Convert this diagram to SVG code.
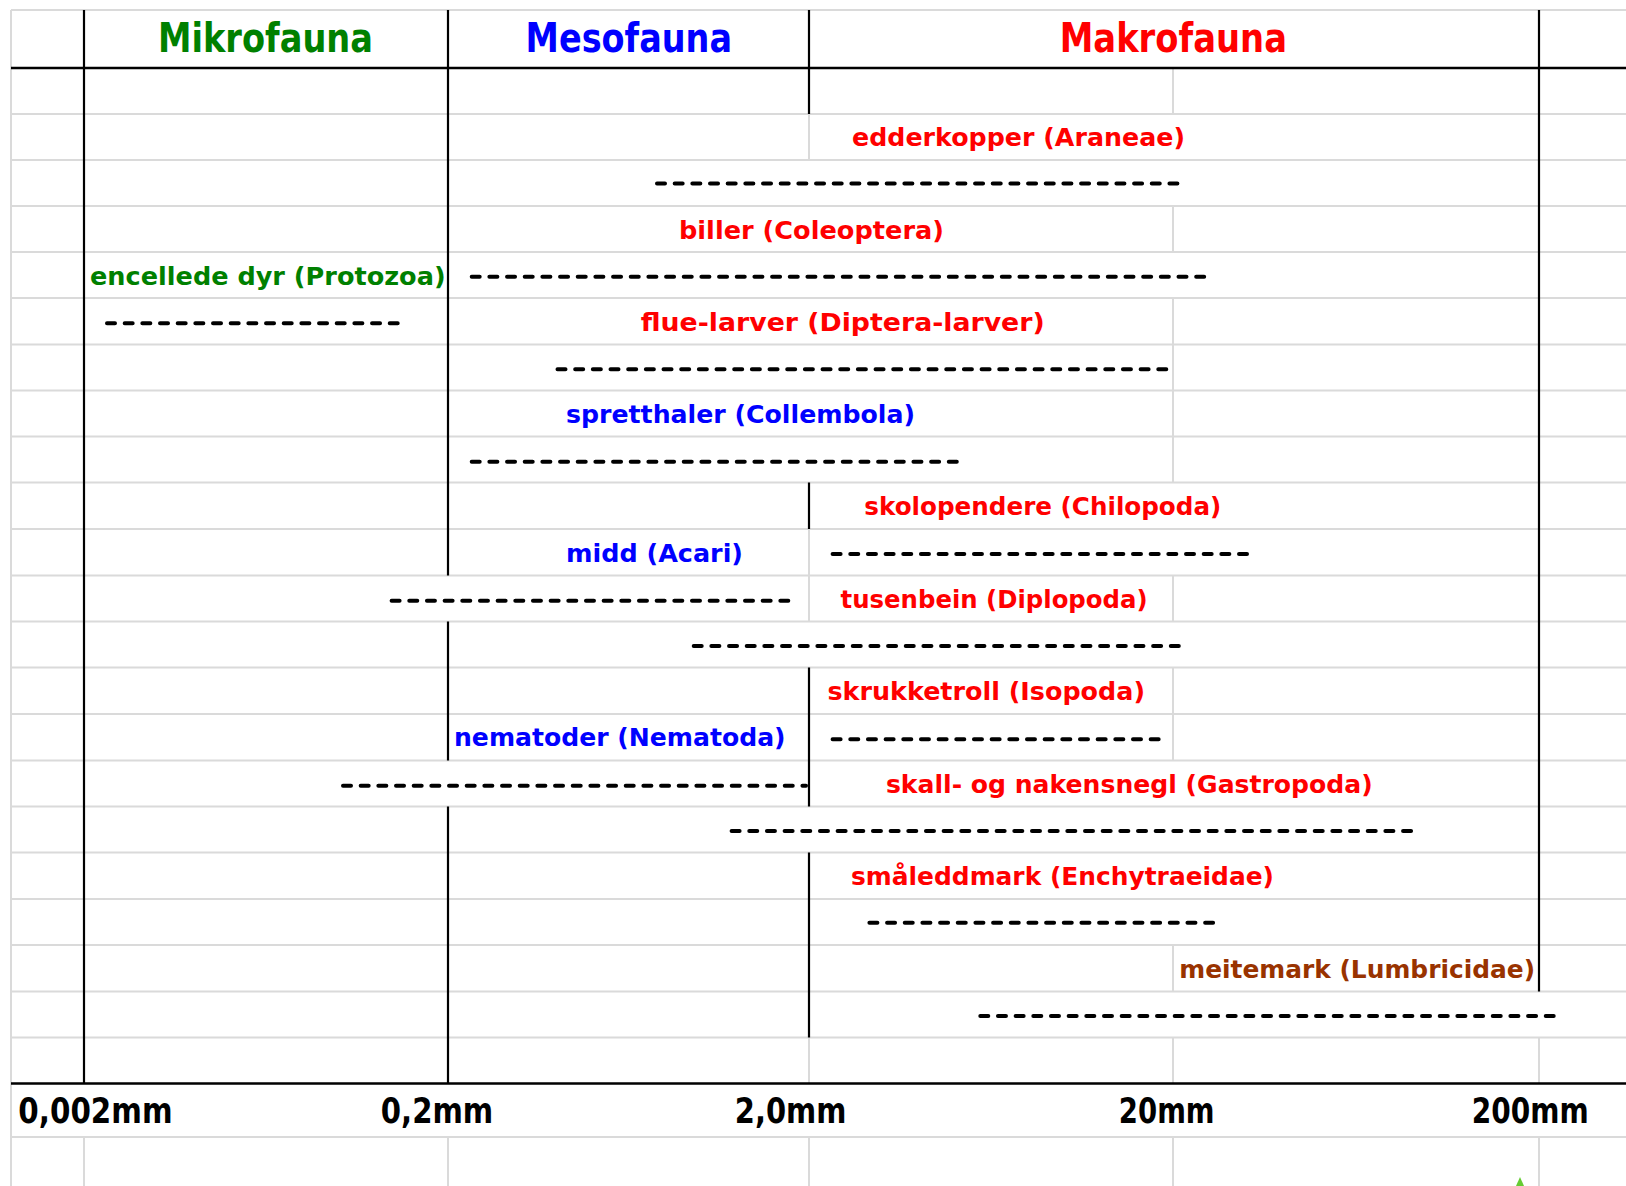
<svg xmlns="http://www.w3.org/2000/svg" width="1626" height="1186" viewBox="0 0 1626 1186">
<style>
  .g { stroke: #DADADA; stroke-width: 2; fill: none; }
  .b { stroke: #000; stroke-width: 2.2; fill: none; }
  .bh { stroke: #000; stroke-width: 2.6; fill: none; }
  .bar { stroke: #000; stroke-width: 4; stroke-linecap: round; stroke-dasharray: 8 9.67; fill: none; }
  text { font-family: "Comic Sans MS", "DejaVu Sans", sans-serif; font-weight: bold; }
  .hd { font-size: 40px; }
  .lb { font-size: 25.5px; }
  .ax { font-size: 35px; fill: #000; }
  .grn { fill: #008000; }
  .blu { fill: #0000FF; }
  .red { fill: #FF0000; }
  .brn { fill: #993300; }
</style>
<rect x="0" y="0" width="1626" height="1186" fill="#fff"/>
<g id="grid">
  <path class="g" d="M11 10H1626 M11 114H1626 M11 160H1626 M11 206H1626 M11 252H1626 M11 298H1626 M11 344.5H1626 M11 390.5H1626 M11 436.5H1626 M11 482.5H1626 M11 529H1626 M11 575.5H1626 M11 621.5H1626 M11 667.5H1626 M11 714H1626 M11 760.5H1626 M11 806.5H1626 M11 852.5H1626 M11 899H1626 M11 945H1626 M11 991.5H1626 M11 1037.5H1626 M11 1137H1626"/>
  <path class="g" d="M11 10V1186 M84 1137V1186 M448 1137V1186 M809 114V160 M809 529V621.5 M809 1037.5V1083.5 M809 1137V1186 M1173 68V114 M1173 206V252 M1173 298V482.5 M1173 575.5V621.5 M1173 667.5V760.5 M1173 945V991.5 M1173 1037.5V1083.5 M1173 1137V1186 M1539 1037.5V1083.5 M1539 1137V1186"/>
  <path class="b" d="M84 10V1083.5 M448 10V575.5 M448 621.5V760.5 M448 806.5V1083.5 M809 10V114 M809 482.5V529 M809 667.5V806.5 M809 852.5V1037.5 M1539 10V991.5"/>
  <path class="bh" d="M11 68H1626 M11 1083.5H1626"/>
  <polygon points="1520,1177 1516,1186 1524,1186" fill="#66CC33"/>
</g>
<g id="headers">
  <text id="h-mikro" class="hd grn" x="158" y="52" textLength="215" lengthAdjust="spacingAndGlyphs">Mikrofauna</text>
  <text id="h-meso" class="hd blu" x="525.6" y="52" textLength="206.4" lengthAdjust="spacingAndGlyphs">Mesofauna</text>
  <text id="h-makro" class="hd red" x="1059.7" y="52" textLength="227.3" lengthAdjust="spacingAndGlyphs">Makrofauna</text>
</g>
<g id="araneae">
  <text class="lb red" x="852" y="146" textLength="333" lengthAdjust="spacingAndGlyphs">edderkopper (Araneae)</text>
  <path class="bar" d="M657 183.5H1177.4"/>
</g>
<g id="coleoptera">
  <text class="lb red" x="679" y="238.5" textLength="265" lengthAdjust="spacingAndGlyphs">biller (Coleoptera)</text>
  <path class="bar" d="M471.7 276.7H1204.2"/>
</g>
<g id="protozoa">
  <text class="lb grn" x="90" y="284.5" textLength="355.6" lengthAdjust="spacingAndGlyphs">encellede dyr (Protozoa)</text>
  <path class="bar" d="M107 323.3H397.7"/>
</g>
<g id="diptera">
  <text class="lb red" x="640.7" y="331" textLength="404" lengthAdjust="spacingAndGlyphs">flue-larver (Diptera-larver)</text>
  <path class="bar" d="M557.5 369.3H1166.3"/>
</g>
<g id="collembola">
  <text class="lb blu" x="566" y="422.5" textLength="349" lengthAdjust="spacingAndGlyphs">spretthaler (Collembola)</text>
  <path class="bar" d="M471.7 461.7H956.8"/>
</g>
<g id="chilopoda">
  <text class="lb red" x="864.3" y="515" textLength="357" lengthAdjust="spacingAndGlyphs">skolopendere (Chilopoda)</text>
  <path class="bar" d="M832.6 554H1247"/>
</g>
<g id="acari">
  <text class="lb blu" x="566" y="561.5" textLength="177" lengthAdjust="spacingAndGlyphs">midd (Acari)</text>
  <path class="bar" d="M391.6 600.7H788.3"/>
</g>
<g id="diplopoda">
  <text class="lb red" x="840.6" y="607.5" textLength="307" lengthAdjust="spacingAndGlyphs">tusenbein (Diplopoda)</text>
  <path class="bar" d="M693.7 646H1178.8"/>
</g>
<g id="isopoda">
  <text class="lb red" x="827.4" y="699.5" textLength="317.6" lengthAdjust="spacingAndGlyphs">skrukketroll (Isopoda)</text>
  <path class="bar" d="M832.6 739.3H1158.7"/>
</g>
<g id="nematoda">
  <text class="lb blu" x="454" y="746" textLength="331.6" lengthAdjust="spacingAndGlyphs">nematoder (Nematoda)</text>
  <path class="bar" d="M343 785.7H806"/>
</g>
<g id="gastropoda">
  <text class="lb red" x="885.9" y="792.5" textLength="486.8" lengthAdjust="spacingAndGlyphs">skall- og nakensnegl (Gastropoda)</text>
  <path class="bar" d="M731.6 831H1411.1"/>
</g>
<g id="enchytraeidae">
  <text class="lb red" x="851" y="884.5" textLength="423" lengthAdjust="spacingAndGlyphs">småleddmark (Enchytraeidae)</text>
  <path class="bar" d="M869.4 922.7H1213.1"/>
</g>
<g id="lumbricidae">
  <text class="lb brn" x="1179.3" y="977.5" textLength="355.7" lengthAdjust="spacingAndGlyphs">meitemark (Lumbricidae)</text>
  <path class="bar" d="M980.3 1016H1553.7"/>
</g>
<g id="axis">
  <text class="ax" x="18.3" y="1123" textLength="154.3" lengthAdjust="spacingAndGlyphs">0,002mm</text>
  <text class="ax" x="380.8" y="1123" textLength="112.4" lengthAdjust="spacingAndGlyphs">0,2mm</text>
  <text class="ax" x="734.8" y="1123" textLength="111.6" lengthAdjust="spacingAndGlyphs">2,0mm</text>
  <text class="ax" x="1118.8" y="1123" textLength="95.8" lengthAdjust="spacingAndGlyphs">20mm</text>
  <text class="ax" x="1471.8" y="1123" textLength="116.9" lengthAdjust="spacingAndGlyphs">200mm</text>
</g>
<g id="connectors"></g>
</svg>
